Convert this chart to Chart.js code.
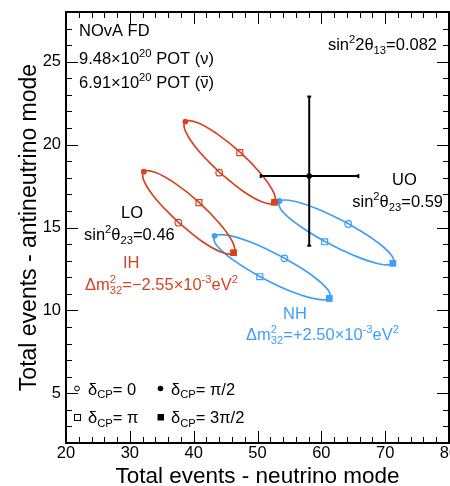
<!DOCTYPE html>
<html lang="en">
<head>
<meta charset="UTF-8" />
<title>NOvA FD – total events, neutrino vs antineutrino mode</title>
<script src="https://cdn.jsdelivr.net/npm/chart.js@4.4.0/dist/chart.umd.min.js"></script>
<style>
html,body{margin:0;padding:0;background:#fff;overflow:hidden}
#wrap{width:455px;height:486px}
</style>
</head>
<body>
<div id="wrap"><canvas id="c" width="455" height="486"></canvas></div>
<script>
/* ---------- data ---------- */
// marker order: dCP = 0, pi/2, pi, 3pi/2
const DCP = ['0', 'π/2', 'π', '3π/2'];

// inverted hierarchy, upper octant
const IH_UO_MX = [44.00, 38.70, 47.23, 52.66];
const IH_UO_MY = [18.31, 21.39, 19.52, 16.52];
const IH_UO_CX = [44.04, 40.76, 38.80, 38.67, 40.41, 43.56, 47.27, 50.54, 52.50, 52.63, 50.89, 47.74];
const IH_UO_CY = [18.33, 19.63, 20.74, 21.37, 21.35, 20.68, 19.54, 18.24, 17.13, 16.50, 16.52, 17.19];

// inverted hierarchy, lower octant
const IH_LO_MX = [37.60, 32.19, 40.83, 46.25];
const IH_LO_MY = [15.29, 18.37, 16.50, 13.48];
const IH_LO_CX = [37.61, 34.31, 32.32, 32.19, 33.94, 37.10, 40.84, 44.13, 46.12, 46.25, 44.50, 41.34];
const IH_LO_CY = [15.31, 16.61, 17.72, 18.36, 18.33, 17.66, 16.52, 15.21, 14.10, 13.47, 13.49, 14.16];

// normal hierarchy, upper octant
const NH_UO_MX = [64.22, 53.44, 60.52, 71.20];
const NH_UO_MY = [15.21, 16.60, 14.14, 12.84];
const NH_UO_CX = [64.20, 59.51, 55.58, 53.47, 53.73, 56.30, 60.50, 65.18, 69.11, 71.23, 70.96, 68.39];
const NH_UO_CY = [15.24, 16.10, 16.60, 16.58, 16.06, 15.18, 14.17, 13.30, 12.80, 12.82, 13.34, 14.22];

// normal hierarchy, lower octant
const NH_LO_MX = [54.22, 43.28, 50.36, 61.25];
const NH_LO_MY = [13.14, 14.50, 12.03, 10.72];
const NH_LO_CX = [54.21, 49.46, 45.46, 43.30, 43.53, 46.12, 50.35, 55.10, 59.10, 61.27, 61.03, 58.44];
const NH_LO_CY = [13.16, 14.03, 14.52, 14.49, 13.96, 13.06, 12.05, 11.17, 10.69, 10.71, 11.24, 12.14];

// observed data point with error bars
const OBS_X = 58.1, OBS_Y = 18.1;
const OBS_XERR = [50.5, 65.8];
const OBS_YERR = [13.9, 22.9];

const X_MIN = 20, X_MAX = 80, X_STEP = 2, X_MAJOR = 10;
const Y_MIN = 2,  Y_MAX = 28, Y_STEP = 1, Y_MAJOR = 5;

/* ---------- style ---------- */
const RED = '#d6431f', BLUE = '#3f9ff8';
const FONT = '"Liberation Sans", Arial, Helvetica, sans-serif';

const pts = (xs, ys) => xs.map((x, i) => ({x, y: ys[i]}));
const loop = (xs, ys) => { const p = pts(xs, ys); return p.concat([p[0]]); };

function curve(xs, ys, color){
  return {data: loop(xs, ys), showLine: true, borderColor: color, borderWidth: 1.7,
          pointRadius: 0, tension: 0.4, fill: false};
}
function markers(xs, ys, color){
  return {data: pts(xs, ys), showLine: false,
          pointStyle: ['circle', 'circle', 'rect', 'rect'],
          pointRadius: [3.3, 2.9, 4.2, 4.8],
          pointBorderWidth: [1.2, 0, 1.2, 0],
          pointBorderColor: color,
          pointBackgroundColor: ['rgba(0,0,0,0)', color, 'rgba(0,0,0,0)', color]};
}

/* ---------- rich text (sup / sub / overline) ---------- */
function rich(ctx, x, y, parts, size, color, align){
  const small = size * 0.68;
  const f = s => `${s}px ${FONT}`;
  const w = p => {
    if (typeof p === 'string'){ ctx.font = f(size); return ctx.measureText(p).width; }
    if (p.bar){ ctx.font = f(size); return ctx.measureText(p.bar).width; }
    ctx.font = f(small);
    return Math.max(p.sup ? ctx.measureText(p.sup).width : 0, p.sub ? ctx.measureText(p.sub).width : 0);
  };
  const total = parts.reduce((a, p) => a + w(p), 0);
  let cx = align === 'right' ? x - total : align === 'center' ? x - total / 2 : x;
  ctx.save();
  ctx.fillStyle = color; ctx.strokeStyle = color;
  ctx.textBaseline = 'alphabetic'; ctx.textAlign = 'left';
  parts.forEach(p => {
    const pw = w(p);
    if (typeof p === 'string'){ ctx.font = f(size); ctx.fillText(p, cx, y); }
    else if (p.bar){
      ctx.font = f(size); ctx.fillText(p.bar, cx, y);
      ctx.lineWidth = 1; ctx.beginPath();
      ctx.moveTo(cx + 1, y - size * 0.7); ctx.lineTo(cx + pw - 0.5, y - size * 0.7); ctx.stroke();
    } else {
      ctx.font = f(small);
      if (p.sup) ctx.fillText(p.sup, cx, y - size * 0.4);
      if (p.sub) ctx.fillText(p.sub, cx, y + size * 0.24);
    }
    cx += pw;
  });
  ctx.restore();
}

const TEXTS = [
  {x: 79,  y: 36,  c: '#000', p: ['NOvA FD']},
  {x: 79,  y: 64,  c: '#000', p: ['9.48×10', {sup: '20'}, ' POT (ν)']},
  {x: 79,  y: 88,  c: '#000', p: ['6.91×10', {sup: '20'}, ' POT (', {bar: 'ν'}, ')']},
  {x: 437, y: 50,  c: '#000', a: 'right', p: ['sin', {sup: '2'}, '2θ', {sub: '13'}, '=0.082']},
  {x: 392, y: 185, c: '#000', p: ['UO']},
  {x: 443, y: 207, c: '#000', a: 'right', p: ['sin', {sup: '2'}, 'θ', {sub: '23'}, '=0.59']},
  {x: 121, y: 218, c: '#000', p: ['LO']},
  {x: 84,  y: 240, c: '#000', p: ['sin', {sup: '2'}, 'θ', {sub: '23'}, '=0.46']},
  {x: 123, y: 268, c: RED,    p: ['IH']},
  {x: 85,  y: 290, c: RED,    p: ['Δm', {sup: '2', sub: '32'}, '=−2.55×10', {sup: '-3'}, 'eV', {sup: '2'}]},
  {x: 283, y: 319, c: BLUE,   p: ['NH']},
  {x: 246, y: 340, c: BLUE,   p: ['Δm', {sup: '2', sub: '32'}, '=+2.50×10', {sup: '-3'}, 'eV', {sup: '2'}]},
  {x: 88,  y: 394.5, c: '#000', p: ['δ', {sub: 'CP'}, '= ' + DCP[0]]},
  {x: 171, y: 394.5, c: '#000', p: ['δ', {sub: 'CP'}, '= ' + DCP[1]]},
  {x: 88,  y: 423, c: '#000', p: ['δ', {sub: 'CP'}, '= ' + DCP[2]]},
  {x: 171, y: 423, c: '#000', p: ['δ', {sub: 'CP'}, '= ' + DCP[3]]}
];

/* ---------- plugin: frame, inward ticks, text, legend ---------- */
const decor = {
  id: 'decor',
  beforeDatasetsDraw(chart){
    const {ctx, chartArea: a, scales: {x, y}} = chart;
    ctx.save();
    ctx.strokeStyle = '#000'; ctx.lineWidth = 1;
    ctx.beginPath();
    x.ticks.forEach(t => {
      const px = Math.round(x.getPixelForValue(t.value)) + 0.5;
      const l = t.value % X_MAJOR === 0 ? 12 : 6;
      ctx.moveTo(px, a.bottom); ctx.lineTo(px, a.bottom - l);
      ctx.moveTo(px, a.top);    ctx.lineTo(px, a.top + l);
    });
    y.ticks.forEach(t => {
      const py = Math.round(y.getPixelForValue(t.value)) + 0.5;
      const l = t.value % Y_MAJOR === 0 ? 12 : 6;
      ctx.moveTo(a.left, py);  ctx.lineTo(a.left + l, py);
      ctx.moveTo(a.right, py); ctx.lineTo(a.right - l, py);
    });
    ctx.stroke();
    ctx.lineWidth = 2;
    ctx.strokeRect(a.left, a.top, a.width, a.height);
    ctx.restore();
  },
  afterDraw(chart){
    const ctx = chart.ctx;
    TEXTS.forEach(t => rich(ctx, t.x, t.y, t.p, 16.5, t.c, t.a || 'left'));
    // legend symbols
    ctx.save();
    ctx.strokeStyle = '#000'; ctx.fillStyle = '#000'; ctx.lineWidth = 1;
    ctx.beginPath(); ctx.arc(77, 388.5, 2.4, 0, Math.PI * 2); ctx.stroke();
    ctx.beginPath(); ctx.arc(160.5, 388.5, 2.8, 0, Math.PI * 2); ctx.fill();
    ctx.strokeRect(74.5, 414.5, 6, 6);
    ctx.fillRect(157.5, 414, 6.5, 6.5);
    ctx.restore();
  }
};

/* ---------- chart ---------- */
new Chart(document.getElementById('c'), {
  type: 'scatter',
  data: {datasets: [
    {data: [{x: OBS_X, y: OBS_Y}], showLine: false, pointRadius: 2.8,
     pointBackgroundColor: '#000', pointBorderWidth: 0},
    {data: [{x: OBS_XERR[0], y: OBS_Y}, {x: OBS_XERR[1], y: OBS_Y}], showLine: true,
     borderColor: '#000', borderWidth: 2, pointStyle: 'line', pointRadius: 2,
     pointRotation: 90, pointBorderWidth: 2, pointBorderColor: '#000'},
    {data: [{x: OBS_X, y: OBS_YERR[0]}, {x: OBS_X, y: OBS_YERR[1]}], showLine: true,
     borderColor: '#000', borderWidth: 2, pointStyle: 'line', pointRadius: 2,
     pointRotation: 0, pointBorderWidth: 2, pointBorderColor: '#000'},
    markers(IH_UO_MX, IH_UO_MY, RED),
    markers(IH_LO_MX, IH_LO_MY, RED),
    markers(NH_UO_MX, NH_UO_MY, BLUE),
    markers(NH_LO_MX, NH_LO_MY, BLUE),
    curve(IH_UO_CX, IH_UO_CY, RED),
    curve(IH_LO_CX, IH_LO_CY, RED),
    curve(NH_UO_CX, NH_UO_CY, BLUE),
    curve(NH_LO_CX, NH_LO_CY, BLUE)
  ]},
  options: {
    responsive: false, animation: false, devicePixelRatio: 1, events: [],
    layout: {padding: {left: 0, top: 12, right: 0, bottom: 0}},
    plugins: {legend: {display: false}, tooltip: {enabled: false}},
    scales: {
      x: {type: 'linear', min: X_MIN, max: X_MAX,
          grid: {display: false, drawTicks: false}, border: {display: false},
          ticks: {stepSize: X_STEP, autoSkip: false, maxRotation: 0, padding: 1, color: '#000',
                  font: {size: 16.5, family: FONT},
                  callback: v => v % X_MAJOR === 0 ? String(v) : ''},
          title: {display: true, text: 'Total events - neutrino mode', color: '#000',
                  font: {size: 22.5, family: FONT, lineHeight: 0.8}, padding: {top: 0, bottom: 0}},
          afterFit: s => { s.height = 43; s.paddingLeft = 0; s.paddingRight = 0; }},
      y: {type: 'linear', min: Y_MIN, max: Y_MAX,
          grid: {display: false, drawTicks: false}, border: {display: false},
          ticks: {stepSize: Y_STEP, autoSkip: false, padding: 5, color: '#000',
                  font: {size: 16.5, family: FONT},
                  callback: v => v % Y_MAJOR === 0 ? String(v) : ''},
          title: {display: true, text: 'Total events - antineutrino mode', color: '#000',
                  font: {size: 23, family: FONT, lineHeight: 0.8}, padding: {top: 20, bottom: 0}},
          afterFit: s => { s.width = 66; s.paddingTop = 0; s.paddingBottom = 0; }}
    }
  },
  plugins: [decor]
});
</script>
</body>
</html>
